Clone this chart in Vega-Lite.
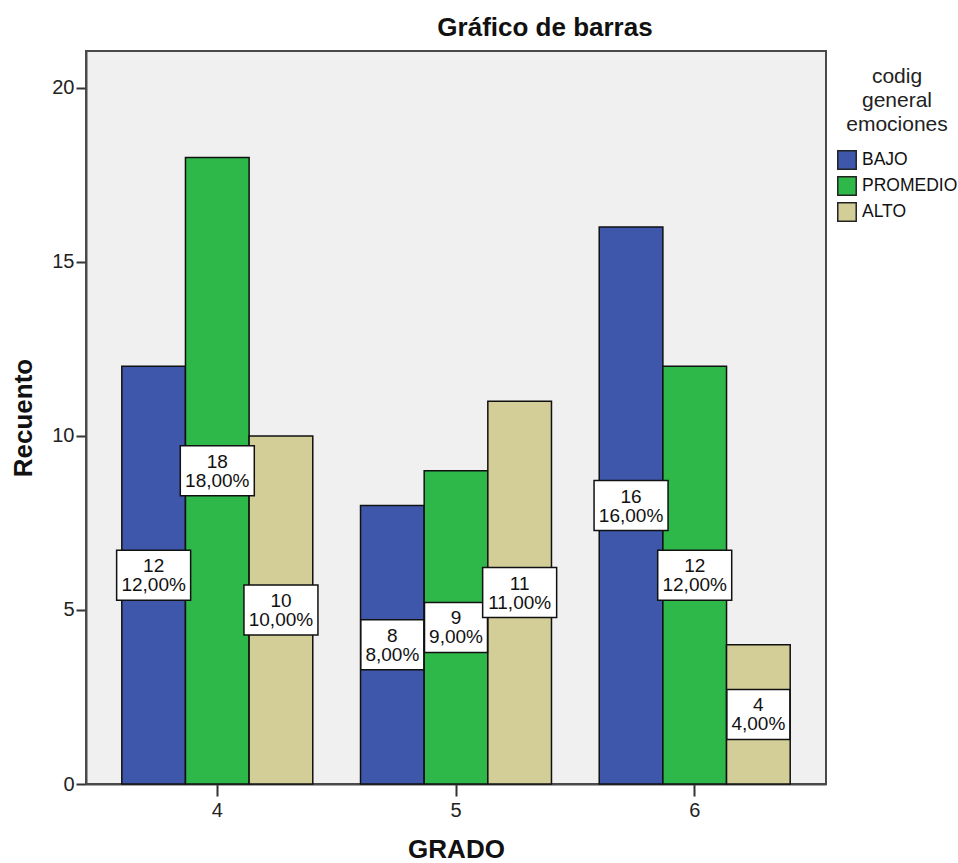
{
  "$schema": "https://vega.github.io/schema/vega-lite/v6.json",
  "width": 740,
  "height": 733,
  "padding": {"left": 10, "top": 15, "right": 4, "bottom": 0},
  "background": "white",
  "title": {
    "text": "Gráfico de barras",
    "anchor": "middle",
    "dx": 89,
    "offset": 10,
    "font": "Liberation Sans",
    "fontSize": 26,
    "fontWeight": "bold",
    "color": "#111111"
  },
  "data": {
    "values": [
      {"grado": "4", "nivel": "BAJO", "n": 12, "etiqueta": "12\n12,00%"},
      {"grado": "4", "nivel": "PROMEDIO", "n": 18, "etiqueta": "18\n18,00%"},
      {"grado": "4", "nivel": "ALTO", "n": 10, "etiqueta": "10\n10,00%"},
      {"grado": "5", "nivel": "BAJO", "n": 8, "etiqueta": "8\n8,00%"},
      {"grado": "5", "nivel": "PROMEDIO", "n": 9, "etiqueta": "9\n9,00%"},
      {"grado": "5", "nivel": "ALTO", "n": 11, "etiqueta": "11\n11,00%"},
      {"grado": "6", "nivel": "BAJO", "n": 16, "etiqueta": "16\n16,00%"},
      {"grado": "6", "nivel": "PROMEDIO", "n": 12, "etiqueta": "12\n12,00%"},
      {"grado": "6", "nivel": "ALTO", "n": 4, "etiqueta": "4\n4,00%"}
    ]
  },
  "encoding": {
    "x": {
      "field": "grado",
      "type": "nominal",
      "scale": {"paddingInner": 0.2, "paddingOuter": 0.15},
      "axis": {
        "title": "GRADO",
        "labelAngle": 0,
        "tickSize": 12,
        "labelPadding": 4,
        "titlePadding": 16
      }
    },
    "xOffset": {
      "field": "nivel",
      "type": "nominal",
      "sort": ["BAJO", "PROMEDIO", "ALTO"],
      "scale": {"paddingInner": 0, "paddingOuter": 0}
    }
  },
  "layer": [
    {
      "mark": {"type": "bar", "stroke": "#111111", "strokeWidth": 1.5, "opacity": 1},
      "encoding": {
        "y": {
          "field": "n",
          "type": "quantitative",
          "scale": {"domain": [0, 21.06], "nice": false},
          "axis": {"title": "Recuento", "values": [0, 5, 10, 15, 20], "tickSize": 10, "labelPadding": 2, "titlePadding": 15}
        },
        "color": {
          "field": "nivel",
          "type": "nominal",
          "sort": ["BAJO", "PROMEDIO", "ALTO"],
          "scale": {"domain": ["BAJO", "PROMEDIO", "ALTO"], "range": ["#3E57AB", "#2EB84A", "#D3CE98"]},
          "legend": {
            "title": ["codig", "general", "emociones"],
            "orient": "none",
            "legendX": 751,
            "legendY": 15,
            "titleAnchor": "middle",
            "titleAlign": "center",
            "titleFont": "Liberation Sans",
            "titleFontSize": 21,
            "titleFontWeight": "normal",
            "titleLineHeight": 24,
            "titleColor": "#222222",
            "titlePadding": 15,
            "labelFont": "Liberation Sans",
            "labelFontSize": 17.5,
            "labelColor": "#111111",
            "labelOffset": 5,
            "symbolType": "square",
            "symbolSize": 340,
            "symbolStrokeColor": "#222222",
            "symbolStrokeWidth": 1.5,
            "symbolOpacity": 1,
            "rowPadding": 0
          }
        }
      }
    },
    {
      "mark": {"type": "point", "filled": true, "fill": "white", "stroke": "#111111", "strokeWidth": 1.5, "opacity": 1, "size": 2500},
      "encoding": {
        "y": {"field": "n", "type": "quantitative", "scale": {"domain": [0, 42.12], "nice": false}, "axis": null},
        "shape": {
          "condition": {"test": "datum.n < 10", "value": "M-1.26,-1H1.26V1H-1.26Z"},
          "value": "M-1.48,-1H1.48V1H-1.48Z"
        }
      }
    },
    {
      "mark": {"type": "text", "lineBreak": "\n", "font": "Liberation Sans", "fontSize": 19, "lineHeight": 19, "dy": -9, "color": "#111111", "baseline": "middle", "align": "center"},
      "encoding": {
        "y": {"field": "n", "type": "quantitative", "scale": {"domain": [0, 42.12], "nice": false}, "axis": null},
        "text": {"field": "etiqueta", "type": "nominal"}
      }
    }
  ],
  "resolve": {"scale": {"y": "independent"}},
  "config": {
    "view": {"fill": "#F0F0F0", "stroke": "#4A4A4A", "strokeWidth": 2},
    "axis": {
      "labelFont": "Liberation Sans",
      "labelFontSize": 20,
      "labelColor": "#222222",
      "titleFont": "Liberation Sans",
      "titleFontSize": 26,
      "titleFontWeight": "bold",
      "titleColor": "#111111",
      "domainColor": "#4A4A4A",
      "domainWidth": 2,
      "tickColor": "#333333",
      "tickWidth": 2,
      "grid": false
    }
  }
}
